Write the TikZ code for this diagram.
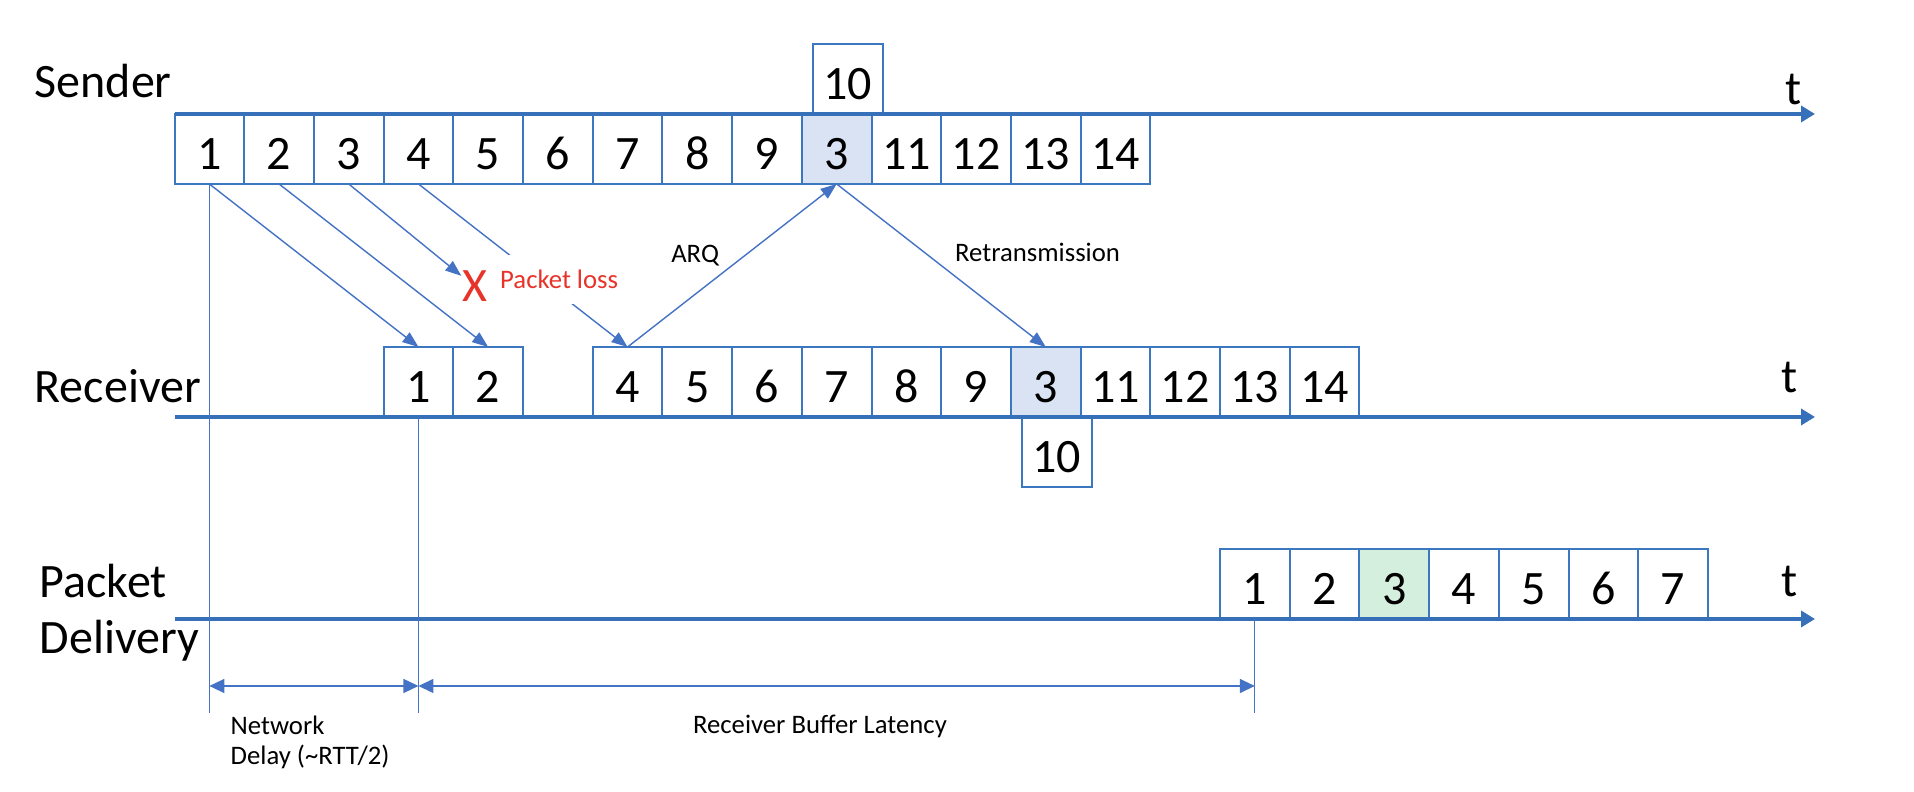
\documentclass[tikz,border=0pt]{standalone}
\usepackage{fontspec}
\setmainfont{Carlito}
\usetikzlibrary{arrows.meta,positioning}
\definecolor{axisblue}{HTML}{3670B8}
\definecolor{boxblue}{HTML}{3C78C0}
\definecolor{arrowblue}{HTML}{4472C4}
\definecolor{fillblue}{HTML}{DAE3F3}
\definecolor{fillgreen}{HTML}{D5EFDF}
\definecolor{lossred}{HTML}{E8332A}
\newcommand\bigsz{\fontsize{13.66}{16}\selectfont}
\newcommand\smallsz{\fontsize{7.6}{8.6}\selectfont}

\begin{document}
\begin{tikzpicture}[node distance=0pt,
    pkt/.style={draw=boxblue, line width=0.57pt, rectangle, minimum width=6.97mm, minimum height=7mm, inner sep=0pt, outer sep=0pt, font=\bigsz, text height=11.5pt, text depth=0pt},
    resent/.style={pkt, fill=fillblue},
    delivered/.style={pkt, fill=fillgreen},
    axis/.style={draw=axisblue, line width=1.3pt, -{Triangle[length=1.4mm, width=1.6mm]}},
    pktarrow/.style={draw=arrowblue, line width=0.4pt, -{Triangle[length=1.6mm, width=1.2mm]}},
    guide/.style={draw=arrowblue, line width=0.35pt},
    dim/.style={draw=arrowblue, line width=0.4pt, {Triangle[length=1.5mm, width=1.4mm]}-{Triangle[length=1.5mm, width=1.4mm]}},
    rowlbl/.style={font=\bigsz, inner sep=0pt},
    note/.style={font=\smallsz, inner sep=0pt}]
    \useasboundingbox (0,0) rectangle (19.14,7.92);

    \node[pkt, anchor=north west] (s1) at (1.745,6.78) {1};
    \node[pkt, right=of s1] (s2) {2};
    \node[pkt, right=of s2] (s3) {3};
    \node[pkt, right=of s3] (s4) {4};
    \node[pkt, right=of s4] (s5) {5};
    \node[pkt, right=of s5] (s6) {6};
    \node[pkt, right=of s6] (s7) {7};
    \node[pkt, right=of s7] (s8) {8};
    \node[pkt, right=of s8] (s9) {9};
    \node[resent, right=of s9] (s3r) {3};
    \node[pkt, right=of s3r] (s11) {11};
    \node[pkt, right=of s11] (s12) {12};
    \node[pkt, right=of s12] (s13) {13};
    \node[pkt, right=of s13] (s14) {14};
    \node[pkt, above=0pt of s3r, xshift=1.1mm] (s10) {10};

    \node[pkt, below=1.63cm of s4] (r1) {1};
    \node[pkt, right=of r1] (r2) {2};
    \node[pkt, right=6.97mm of r2] (r4) {4};
    \node[pkt, right=of r4] (r5) {5};
    \node[pkt, right=of r5] (r6) {6};
    \node[pkt, right=of r6] (r7) {7};
    \node[pkt, right=of r7] (r8) {8};
    \node[pkt, right=of r8] (r9) {9};
    \node[resent, right=of r9] (r3) {3};
    \node[pkt, right=of r3] (r11) {11};
    \node[pkt, right=of r11] (r12) {12};
    \node[pkt, right=of r12] (r13) {13};
    \node[pkt, right=of r13] (r14) {14};
    \node[pkt, below=0pt of r3, xshift=1.1mm] (r10) {10};

    \node[pkt, below=1.32cm of r13] (d1) {1};
    \node[pkt, right=of d1] (d2) {2};
    \node[delivered, right=of d2] (d3) {3};
    \node[pkt, right=of d3] (d4) {4};
    \node[pkt, right=of d4] (d5) {5};
    \node[pkt, right=of d5] (d6) {6};
    \node[pkt, right=of d6] (d7) {7};

    \coordinate (tend) at (18.15,0);
    \draw[axis] (s1.north west) -- (tend |- s1.north);
    \draw[axis] (s1.west |- r1.south) -- (tend |- r1.south);
    \draw[axis] (s1.west |- d1.south) -- (tend |- d1.south);
    \node[rowlbl, anchor=base] (st) at (17.94,6.87) {t};
    \node[rowlbl, anchor=base] (rt) at (17.90,3.99) {t};
    \node[rowlbl, anchor=base] (dt) at (17.90,1.95) {t};

    \node[rowlbl, anchor=base west] (sendlbl) at (0.34,6.94) {Sender};
    \node[rowlbl, anchor=base west] (recvlbl) at (0.34,3.89) {Receiver};
    \node[rowlbl, anchor=north west, align=left] (dellbl) at (0.39,2.29) {Packet\\Delivery};

    \node[rowlbl, text=lossred, anchor=base] (lossx) at (4.745,4.90) {X};
    \draw[pktarrow] (s1.south) -- (r1.north);
    \draw[pktarrow] (s2.south) -- (r2.north);
    \draw[pktarrow] (s3.south) -- (lossx);
    \draw[pktarrow] (s4.south) -- (r4.north);
    \node[note, text=lossred, fill=white, inner xsep=1pt, inner ysep=1.5mm, anchor=base west] (losstxt) at (4.96,5.03) {Packet loss};
    \draw[pktarrow] (r4.north) -- node[note, pos=0.56, left=2.5mm] (arq) {ARQ} (s3r.south);
    \draw[pktarrow] (s3r.south) -- node[note, pos=0.42, right=3mm] (retx) {Retransmission} (r3.north);

    \coordinate (gbot) at (0,0.79);
    \coordinate (dimy) at (0,1.06);
    \draw[guide] (s1.south) -- (s1.south |- gbot);
    \draw[guide] (r1.south) -- (r1.south |- gbot);
    \draw[guide] (d1.south) -- (d1.south |- gbot);
    \draw[dim] (s1.south |- dimy) -- (r1.south |- dimy);
    \draw[dim] (r1.south |- dimy) -- node[note, pos=0.48, below=2.8mm] (buflbl) {Receiver Buffer Latency} (d1.south |- dimy);
    \node[note, align=left, anchor=north west] (netlbl) at (2.30,0.77) {Network\\Delay (\textasciitilde RTT/2)};
\end{tikzpicture}
\end{document}
